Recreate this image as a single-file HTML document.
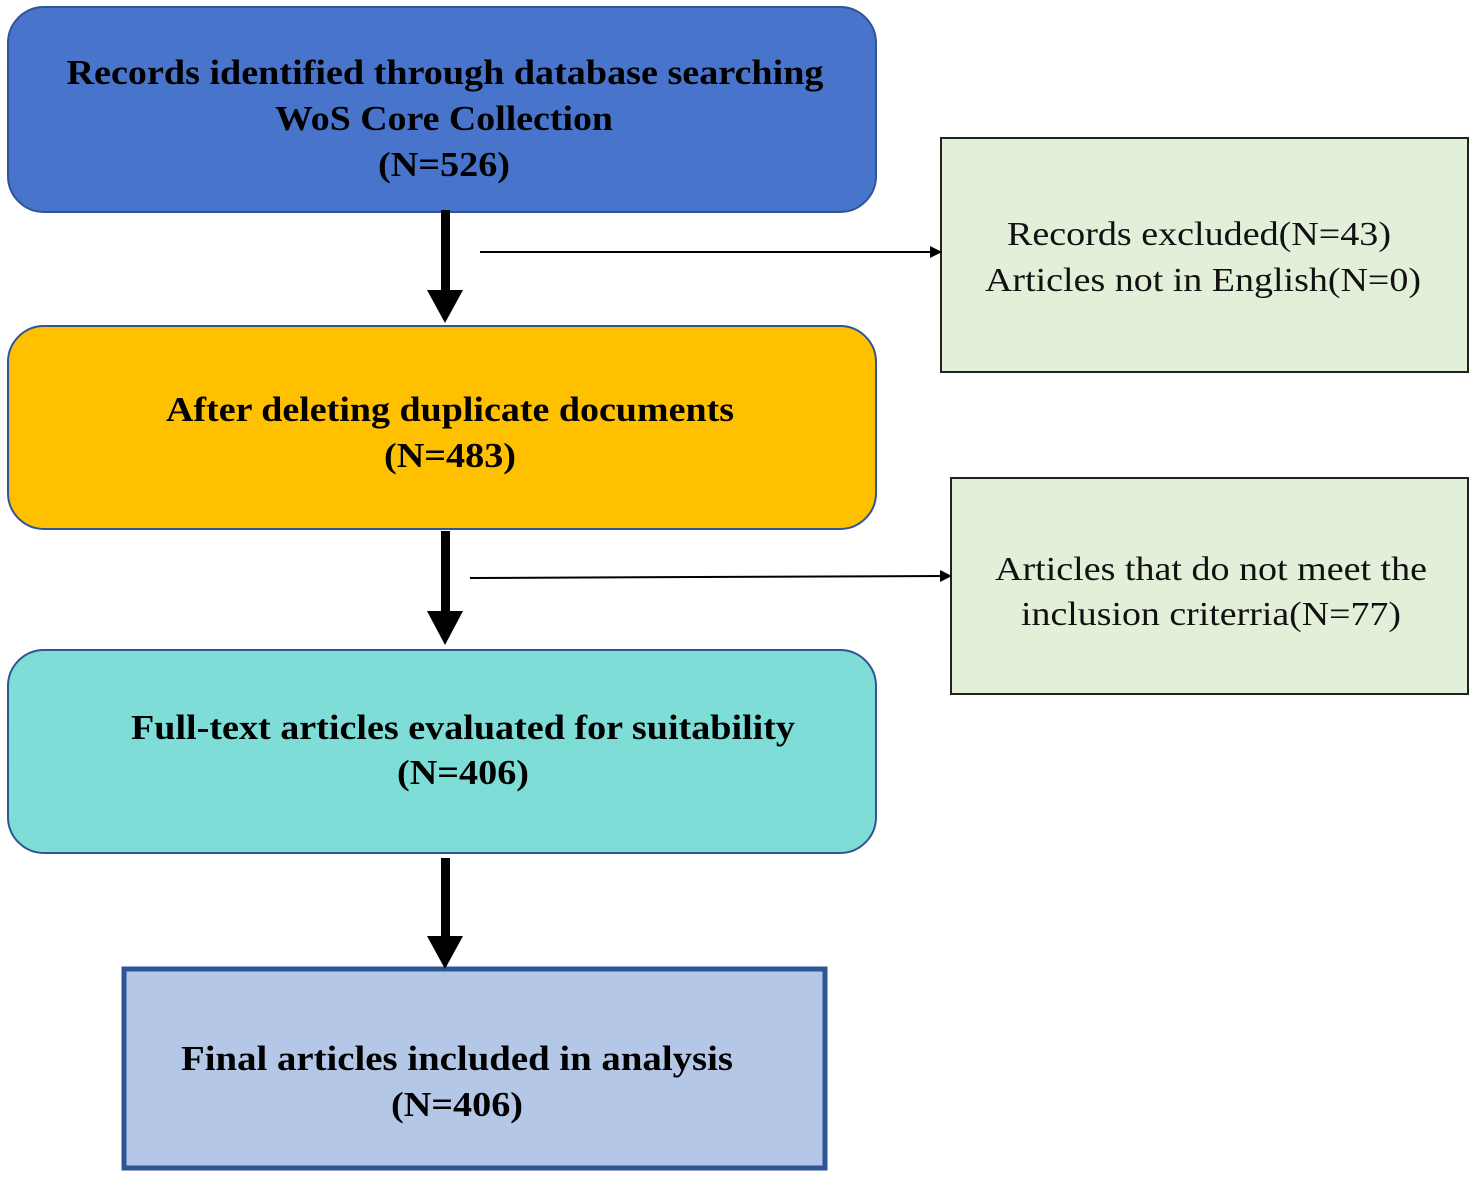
<!DOCTYPE html>
<html><head><meta charset="utf-8"><style>html,body{margin:0;padding:0;background:#fff}svg{display:block}</style></head>
<body>
<svg width="1477" height="1178" viewBox="0 0 1477 1178" xmlns="http://www.w3.org/2000/svg" font-family="'Liberation Serif', serif">
<rect x="8" y="7" width="868" height="205" rx="36" fill="#4874CB" stroke="#2F5597" stroke-width="2"/>
<rect x="8" y="326" width="868" height="203" rx="36" fill="#FFC000" stroke="#2F5597" stroke-width="2"/>
<rect x="8" y="650" width="868" height="203" rx="36" fill="#7EDDD6" stroke="#2F5597" stroke-width="2"/>
<rect x="124" y="969" width="701" height="199" fill="#B4C7E7" stroke="#2F5597" stroke-width="5"/>
<rect x="941" y="138" width="527" height="234" fill="#E2EFD9" stroke="#222" stroke-width="2"/>
<rect x="951" y="478" width="517" height="216" fill="#E2EFD9" stroke="#222" stroke-width="2"/>
<g fill="#000">
<rect x="441" y="210" width="9" height="82"/><polygon points="427,290 463,290 445,323"/>
<rect x="441" y="531" width="9" height="82"/><polygon points="427,611 463,611 445,645"/>
<rect x="441" y="858" width="9" height="80"/><polygon points="427,936 463,936 445,969"/>
</g>
<line x1="480" y1="252" x2="932" y2="252" stroke="#000" stroke-width="2"/>
<polygon points="942,252 930,246 930,258" fill="#000"/>
<line x1="470" y1="578" x2="942" y2="576" stroke="#000" stroke-width="2"/>
<polygon points="952,576 940,570 940,582" fill="#000"/>
<g font-weight="bold" font-size="35" text-anchor="middle" fill="#000" lengthAdjust="spacingAndGlyphs">
<text x="445" y="84" textLength="757" lengthAdjust="spacingAndGlyphs">Records identified through database searching</text>
<text x="444" y="130" textLength="338" lengthAdjust="spacingAndGlyphs">WoS Core Collection</text>
<text x="444" y="176" textLength="132" lengthAdjust="spacingAndGlyphs">(N=526)</text>
<text x="450" y="421" textLength="568" lengthAdjust="spacingAndGlyphs">After deleting duplicate documents</text>
<text x="450" y="467" textLength="132" lengthAdjust="spacingAndGlyphs">(N=483)</text>
<text x="463" y="739" textLength="664" lengthAdjust="spacingAndGlyphs">Full-text articles evaluated for suitability</text>
<text x="463" y="784" textLength="132" lengthAdjust="spacingAndGlyphs">(N=406)</text>
<text x="457" y="1070" textLength="552" lengthAdjust="spacingAndGlyphs">Final articles included  in analysis</text>
<text x="457" y="1116" textLength="132" lengthAdjust="spacingAndGlyphs">(N=406)</text>
</g>
<g font-size="34" text-anchor="middle" fill="#111">
<text x="1199" y="245" textLength="384" lengthAdjust="spacingAndGlyphs">Records excluded(N=43)</text>
<text x="1203" y="291" textLength="436" lengthAdjust="spacingAndGlyphs">Articles not in English(N=0)</text>
<text x="1211" y="580" textLength="432" lengthAdjust="spacingAndGlyphs">Articles that do not meet the</text>
<text x="1211" y="625" textLength="380" lengthAdjust="spacingAndGlyphs">inclusion criterria(N=77)</text>
</g>
</svg>
</body></html>
